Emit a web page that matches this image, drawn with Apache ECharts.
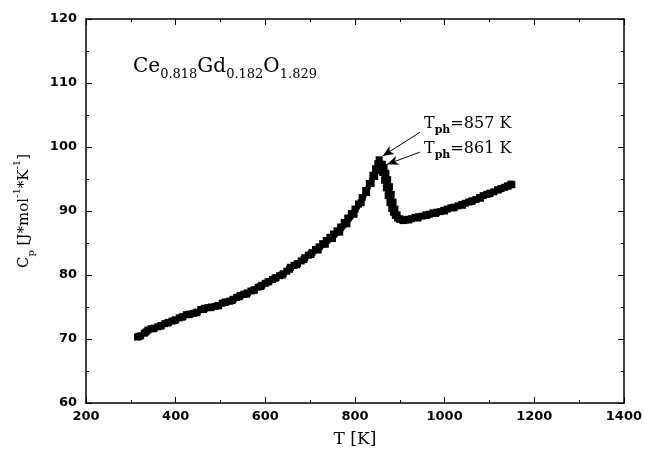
<!DOCTYPE html>
<html><head><meta charset="utf-8">
<script src="https://cdn.jsdelivr.net/npm/echarts@6/dist/echarts.min.js"></script>
<style>html,body{margin:0;padding:0;background:#fff}#c{width:645px;height:453px}</style>
</head><body><div id="c"></div>
<script>
// Run 1 (Tph = 857 K): temperature [K]
const tempA = [315,322,330,338,345,352,360,368,376,384,392,400,408,416,424,432,440,448,456,464,472,480,488,496,504,512,520,528,536,544,552,560,568,576,584,592,600,608,616,624,632,640,648,656,664,672,680,688,696,704,712,720,728,736,744,752,760,768,776,784,792,800,808,816,824,832,840,846,851,854,858,862,866,870,874,878,882,886,890,895,900,906,912,918,926,934,942,950,958,966,974,982,990,998,1006,1014,1022,1030,1038,1046,1054,1062,1070,1078,1086,1094,1102,1110,1118,1126,1134,1142,1150];
// Run 1 heat capacity [J/(mol K)]
const cpA = [70.3,70.5,70.9,71.4,71.6,71.7,71.9,72.1,72.4,72.6,72.8,73.0,73.3,73.5,73.8,73.9,74.0,74.2,74.6,74.8,74.9,75.0,75.1,75.2,75.6,75.8,75.9,76.2,76.5,76.8,77.0,77.2,77.5,77.7,78.1,78.4,78.7,79.0,79.3,79.6,79.9,80.2,80.6,81.2,81.5,81.8,82.2,82.7,83.1,83.5,84.0,84.4,84.9,85.4,85.9,86.4,86.9,87.5,88.2,88.9,89.6,90.3,91.1,92.1,93.2,94.3,95.6,96.6,97.4,98.0,97.3,96.0,94.8,93.6,92.4,91.3,90.4,89.8,89.3,88.9,88.7,88.6,88.6,88.7,88.8,89.0,89.1,89.2,89.4,89.5,89.7,89.8,89.9,90.1,90.3,90.5,90.6,90.8,91.0,91.2,91.4,91.6,91.8,92.1,92.4,92.6,92.8,93.0,93.3,93.5,93.7,93.9,94.1];
// Run 2 (Tph = 861 K)
const tempB = [318,334,350,366,382,398,414,430,446,462,478,494,510,526,542,558,574,590,606,622,638,654,670,686,702,718,734,750,766,782,798,814,826,836,844,850,856,861,865,869,873,877,881,885,889,894,900,908,920,940,960,980,1000,1020,1040,1060,1080,1100,1120,1140,1148];
const cpB = [70.4,71.1,71.6,72.0,72.5,72.9,73.4,73.8,74.1,74.6,74.9,75.2,75.7,76.0,76.6,77.0,77.6,78.2,78.9,79.5,80.0,80.9,81.6,82.4,83.2,83.9,84.8,85.7,86.7,88.0,89.5,91.3,92.9,94.3,95.4,96.3,96.9,97.3,96.8,95.9,94.9,93.8,92.6,91.4,90.3,89.4,88.8,88.5,88.6,88.9,89.3,89.6,90.0,90.5,90.9,91.5,92.0,92.7,93.3,93.9,94.2];
// Axis ticks
const xTicks = [200,400,600,800,1000,1200,1400];
const yTicks = [60,70,80,90,100,110,120];
const peaks = [{label:'857', T:857}, {label:'861', T:861}];

const zip = (a,b)=>a.map((v,i)=>[v,b[i]]);
const chart = echarts.init(document.getElementById('c'), null, {renderer:'canvas'});
const numFont = {fontFamily:'DejaVu Sans', fontWeight:'bold', fontSize:13, color:'#000', formatter:(v)=>String(v)};
const axisBase = {
  axisLine:{show:true, onZero:false, lineStyle:{color:'#000', width:1.5}},
  axisTick:{show:true, inside:true, length:6, lineStyle:{color:'#000', width:1}},
  minorTick:{show:true, splitNumber:2, length:3, lineStyle:{color:'#000', width:1}},
  splitLine:{show:false}
};
chart.setOption({
  animation:false,
  backgroundColor:'#fff',
  grid:{left:86, right:21, top:19, bottom:50},
  xAxis:[
    Object.assign({type:'value', min:xTicks[0], max:xTicks[xTicks.length-1], interval:200, position:'bottom',
      name:'T [K]', nameLocation:'middle', nameGap:28,
      nameTextStyle:{fontFamily:'DejaVu Serif', fontSize:17, color:'#000'},
      axisLabel:Object.assign({margin:7}, numFont)}, axisBase),
    Object.assign({type:'value', min:200, max:1400, interval:200, position:'top', axisLabel:{show:false}}, axisBase)
  ],
  yAxis:[
    Object.assign({type:'value', min:yTicks[0], max:yTicks[yTicks.length-1], interval:10, position:'left',
      name:'{n|C}{s|p}{n| [J*mol}{u|-1}{n|*K}{u|-1}{n|]}', nameLocation:'middle', nameGap:50, nameRotate:90,
      nameTextStyle:{color:'#000', rich:{
        n:{fontFamily:'DejaVu Serif', fontSize:15, lineHeight:24, verticalAlign:'middle', color:'#000'},
        s:{fontFamily:'DejaVu Serif', fontSize:10, lineHeight:11, verticalAlign:'bottom', color:'#000'},
        u:{fontFamily:'DejaVu Serif', fontSize:10, lineHeight:11, verticalAlign:'top', color:'#000'}}},
      axisLabel:Object.assign({margin:9}, numFont)}, axisBase),
    Object.assign({type:'value', min:60, max:120, interval:10, position:'right', axisLabel:{show:false}}, axisBase)
  ],
  series:[
    {type:'line', data:zip(tempA,cpA), symbol:'rect', symbolSize:7, showSymbol:true,
     itemStyle:{color:'#000'}, lineStyle:{color:'#000', width:4},
     markLine:{silent:true, symbol:['none','arrow'], symbolSize:[7,11],
       lineStyle:{color:'#000', width:1, type:'solid'}, label:{show:false},
       data:[[{coord:[945,102.3]},{coord:[862,98.6]}],[{coord:[945,99.2]},{coord:[872,97.3]}]]}},
    {type:'line', data:zip(tempB,cpB), symbol:'rect', symbolSize:7, showSymbol:true,
     itemStyle:{color:'#000'}, lineStyle:{color:'#000', width:4}}
  ],
  graphic:[
    {type:'text', left:133, top:57, style:{
      text:'{n|Ce}{s|0.818}{n|Gd}{s|0.182}{n|O}{s|1.829}',
      rich:{n:{fontFamily:'DejaVu Serif', fontSize:20, lineHeight:28, verticalAlign:'middle', fill:'#000'},
            s:{fontFamily:'DejaVu Serif', fontSize:13, lineHeight:14, verticalAlign:'bottom', fill:'#000'}}}},
    ...peaks.map((p,i)=>({type:'text', left:424, top:116+i*25, style:{
      text:'{n|T}{s|ph}{n|=' + p.label + ' K}',
      rich:{n:{fontFamily:'DejaVu Serif', fontSize:16, lineHeight:24, verticalAlign:'middle', fill:'#000'},
            s:{fontFamily:'DejaVu Serif', fontSize:11, fontWeight:'bold', lineHeight:12, verticalAlign:'bottom', fill:'#000'}}}}))
  ]
});
</script></body></html>
